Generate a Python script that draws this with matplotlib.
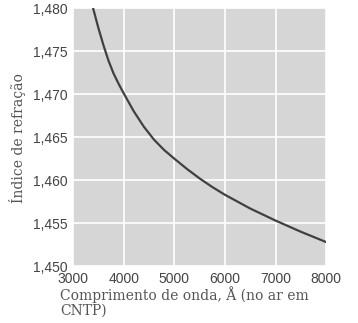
import matplotlib
matplotlib.use("Agg")
import matplotlib.pyplot as plt

# refractive index vs wavelength
wavelength = [3400, 3500, 3600, 3700, 3800, 3900, 4000, 4200, 4400, 4600, 4800, 5000,
              5250, 5500, 5750, 6000, 6500, 7000, 7500, 8000]
index_n = [1.4799, 1.4777, 1.4757, 1.4739, 1.4724, 1.4712, 1.4701, 1.4680, 1.4662, 1.4647,
           1.4635, 1.4625, 1.4613, 1.4602, 1.4592, 1.4583, 1.4567, 1.4553, 1.4540, 1.4528]

x_ticks = [3000, 4000, 5000, 6000, 7000, 8000]
y_ticks = [1.450, 1.455, 1.460, 1.465, 1.470, 1.475, 1.480]
y_labels = ["1,450", "1,455", "1,460", "1,465", "1,470", "1,475", "1,480"]

fig = plt.figure(figsize=(3.58, 3.23), dpi=100)
ax = fig.add_axes([0.204, 0.176, 0.707, 0.799])
ax.set_facecolor("#d6d6d6")

ax.plot(wavelength, index_n, color="#404040", linewidth=1.6)

ax.set_xlim(3000, 8000)
ax.set_ylim(1.450, 1.480)
ax.set_xticks(x_ticks)
ax.set_yticks(y_ticks)
ax.set_yticklabels(y_labels)
ax.grid(True, color="white", linewidth=1.2)
ax.set_axisbelow(True)
for s in ax.spines.values():
    s.set_visible(False)
ax.tick_params(length=0, labelsize=10, colors="#444444", pad=4)
for lbl in ax.get_xticklabels() + ax.get_yticklabels():
    lbl.set_family("Liberation Sans")

fig.text(0.05, 0.573, "Índice de refração", rotation=90, ha="center", va="center",
         family="DejaVu Serif", fontsize=10, color="#555555")
fig.text(0.168, 0.115, "Comprimento de onda, Å (no ar em\nCNTP)", ha="left", va="top",
         family="DejaVu Serif", fontsize=10, color="#555555", linespacing=1.05)

fig.savefig("out.png", dpi=100, facecolor="white")
